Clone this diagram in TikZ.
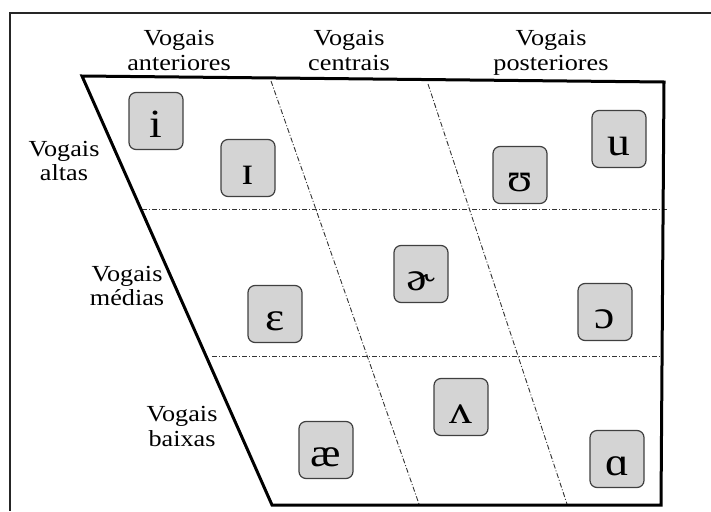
\documentclass[tikz,border=0pt]{standalone}
\usepackage{fontspec}
\setmainfont{Liberation Serif}[FakeStretch=1.14]
\begin{document}
\begin{tikzpicture}[x=1pt,y=-1pt,
  frame/.style={line width=1.5pt,black!85},
  trap/.style={line width=3pt,black,line join=miter},
  divider/.style={line width=0.9pt,black!80,dash pattern=on 5pt off 2pt on 1pt off 2pt},
  vbox/.style={draw=black!75,fill=black!17,line width=1.2pt,rounded corners=7pt,minimum width=54pt,minimum height=57pt,inner sep=0pt},
  vsym/.style={anchor=base,inner sep=0pt,font=\fontsize{40}{40}\selectfont},
  lab/.style={align=center,font=\fontsize{23}{24.5}\selectfont,inner sep=0pt}]
\useasboundingbox (0,0) rectangle (711,511);
% outer frame (top and left edges)
\coordinate (f0) at (711,13);
\coordinate (f1) at (10,13);
\coordinate (f2) at (10,511);
\draw[frame] (f0) -- (f1) -- (f2);
% trapezoid corners
\coordinate (tl) at (82,76);
\coordinate (tr) at (664,82);
\coordinate (br) at (661,505);
\coordinate (bl) at (272,505);
% dividers
\coordinate (h1a) at (142,209);
\coordinate (h1b) at (668,209);
\coordinate (h2a) at (212,356);
\coordinate (h2b) at (661,356);
\coordinate (v1a) at (271,81);
\coordinate (v1b) at (419,504);
\coordinate (v2a) at (428,84);
\coordinate (v2b) at (567,504);
\draw[divider] (h1a) -- (h1b);
\draw[divider] (h2a) -- (h2b);
\draw[divider] (v1a) -- (v1b);
\draw[divider] (v2a) -- (v2b);
\draw[trap] (tl) -- (tr) -- (br) -- (bl) -- cycle;
% labels
\node[lab] (la) at (179,50.5) {Vogais\\anteriores};
\node[lab] (lc) at (349,50.5) {Vogais\\centrais};
\node[lab] (lp) at (551,53) {Vogais\\posteriores};
\node[lab] (lh) at (64,161) {Vogais\\altas};
\node[lab] (lm) at (127,286) {Vogais\\médias};
\node[lab] (ll) at (182,426.5) {Vogais\\baixas};
% vowel boxes
\node[vbox] (bi) at (156,121) {};
\node[vbox] (bI) at (248,168) {};
\node[vbox] (bU) at (520,175) {};
\node[vbox] (bu) at (619,139) {};
\node[vbox] (be) at (275,314) {};
\node[vbox] (bS) at (421,274) {};
\node[vbox] (bo) at (605,312) {};
\node[vbox] (bae) at (326,450) {};
\node[vbox] (bV) at (461,407) {};
\node[vbox] (ba) at (617,459) {};
\node[vsym] (ti) at ([yshift=-16pt]bi.center) {i};
\node[vsym] (tI) at ([yshift=-16pt]bI.center) {ɪ};
\node[vsym] (tU) at ([yshift=-16pt]bU.center) {ʊ};
\node[vsym] (tu) at ([yshift=-16pt]bu.center) {u};
\node[vsym] (te) at ([yshift=-16pt]be.center) {ɛ};
\node[vsym] (tS) at ([yshift=-16pt]bS.center) {ɚ};
\node[vsym] (to) at ([yshift=-16pt]bo.center) {ɔ};
\node[vsym] (tae) at ([yshift=-16pt]bae.center) {æ};
\node[vsym] (tV) at ([yshift=-16pt]bV.center) {ʌ};
\node[vsym] (ta) at ([yshift=-16pt]ba.center) {ɑ};
\end{tikzpicture}
\end{document}
